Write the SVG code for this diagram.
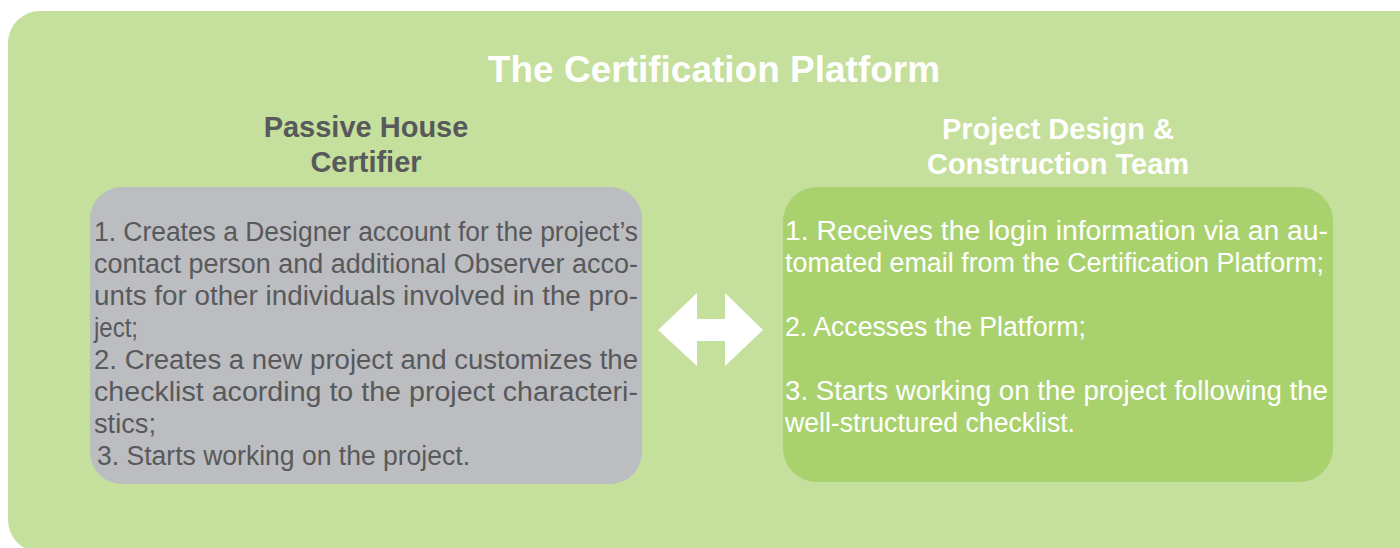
<svg xmlns="http://www.w3.org/2000/svg" width="1400" height="548" viewBox="0 0 1400 548">
<style>
.t{font-family:"Liberation Sans",Arial,sans-serif;}
.title{font-size:37px;font-weight:bold;fill:#ffffff;}
.hd{font-size:29px;font-weight:bold;}
.body{font-size:27px;}
.dark{fill:#58595b;}
.wh{fill:#ffffff;}
</style>
<rect width="1400" height="548" fill="#ffffff"/>
<g id="platform">
<rect x="8" y="11" width="1430" height="541" rx="32" fill="#c5df9c"/>
<text class="t title" x="714" y="82" text-anchor="middle">The Certification Platform</text>
</g>
<g id="certifier">
<text class="t hd dark" x="366" y="137" text-anchor="middle">Passive House</text>
<text class="t hd dark" x="366" y="172" text-anchor="middle">Certifier</text>
<rect x="90" y="187" width="552" height="297" rx="32" fill="#bcbdc0"/>
<g class="t body dark">
<text x="94" y="241" textLength="544" lengthAdjust="spacingAndGlyphs">1. Creates a Designer account for the project’s</text>
<text x="94" y="273" textLength="544" lengthAdjust="spacingAndGlyphs">contact person and additional Observer acco-</text>
<text x="94" y="305" textLength="544" lengthAdjust="spacingAndGlyphs">unts for other individuals involved in the pro-</text>
<text x="94" y="337" textLength="44" lengthAdjust="spacingAndGlyphs">ject;</text>
<text x="94" y="369" textLength="544" lengthAdjust="spacingAndGlyphs">2. Creates a new project and customizes the</text>
<text x="94" y="401" textLength="544" lengthAdjust="spacingAndGlyphs">checklist acording to the project characteri-</text>
<text x="94" y="433" textLength="62" lengthAdjust="spacingAndGlyphs">stics;</text>
<text x="97" y="465" textLength="373" lengthAdjust="spacingAndGlyphs">3. Starts working on the project.</text>
</g>
</g>
<g id="team">
<text class="t hd wh" x="1058" y="139" text-anchor="middle">Project Design &amp;</text>
<text class="t hd wh" x="1058" y="174" text-anchor="middle">Construction Team</text>
<rect x="783" y="187" width="550" height="295" rx="34" fill="#a9d26f"/>
<g class="t body wh">
<text x="785" y="240" textLength="543" lengthAdjust="spacingAndGlyphs">1. Receives the login information via an au-</text>
<text x="785" y="272" textLength="539" lengthAdjust="spacingAndGlyphs">tomated email from the Certification Platform;</text>
<text x="785" y="336" textLength="301" lengthAdjust="spacingAndGlyphs">2. Accesses the Platform;</text>
<text x="785" y="400" textLength="543" lengthAdjust="spacingAndGlyphs">3. Starts working on the project following the</text>
<text x="785" y="432" textLength="290" lengthAdjust="spacingAndGlyphs">well-structured checklist.</text>
</g>
</g>
<g id="connectors">
<polygon points="658,330 697,293 697,319 725,319 725,293 763,330 725,366 725,341 697,341 697,366" fill="#ffffff"/>
</g>
</svg>
